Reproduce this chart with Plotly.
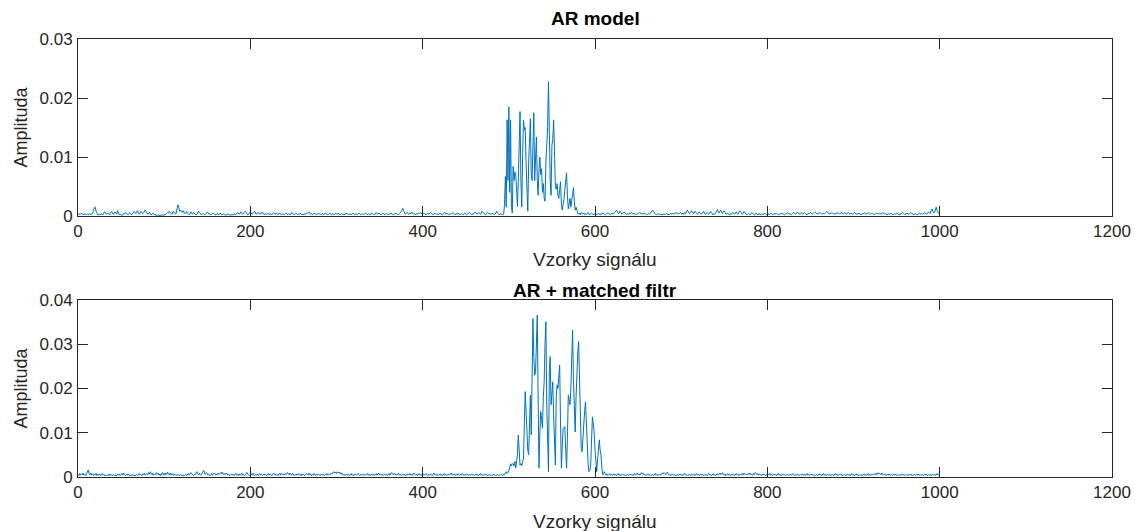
import plotly.graph_objects as go

# ---------------- data (amplitude in units of 1e-4) ----------------
# AR model: samples 0..479
ar_pre = [
3,4,2,3,5,3,2,2,4,3,2,3,2,4,3,2,3,5,9,14,
15,8,3,2,2,3,2,4,3,2,5,7,6,3,4,5,3,2,6,8,
5,3,4,7,5,3,9,6,2,3,2,1,2,4,3,6,5,3,2,4,
6,4,2,3,5,8,6,4,7,9,6,3,5,8,6,4,5,7,10,8,
5,3,4,6,3,2,4,5,3,2,2,1,1,2,1,1,2,1,1,2,
1,2,3,4,6,5,8,6,4,3,7,8,5,3,5,10,19,14,8,10,
8,6,9,7,4,6,8,5,3,2,4,7,5,3,6,4,3,2,3,5,
8,6,3,2,3,4,3,2,3,5,7,5,3,4,2,3,4,5,3,2,
2,3,4,2,3,5,3,2,3,4,2,2,3,2,4,3,1,2,2,3,
2,4,3,2,3,6,5,3,4,7,5,3,5,6,8,6,4,2,3,5,
7,5,3,4,6,8,5,3,4,6,4,5,3,6,7,4,2,3,4,3,
5,3,2,4,3,2,4,6,4,3,5,3,2,3,5,4,2,3,4,2,
3,5,4,2,3,4,2,3,6,4,3,2,3,5,3,2,4,3,5,4,
2,3,2,4,3,5,4,6,7,5,3,4,2,3,5,4,3,2,4,3,
5,3,2,3,4,2,3,5,4,3,2,4,5,3,2,4,3,2,3,5,
4,3,5,3,2,3,4,3,2,2,4,3,5,3,2,3,4,2,3,5,
3,2,3,4,2,3,5,4,2,3,4,2,3,3,5,3,2,4,3,2,
3,5,4,3,2,3,6,4,3,5,4,3,2,4,5,3,2,3,4,3,
2,4,3,5,4,3,2,3,4,5,4,3,2,4,5,7,10,13,9,5,
3,4,6,4,3,5,4,7,5,3,4,3,2,4,3,5,4,6,5,3,
3,5,4,3,2,4,5,3,4,6,5,3,2,3,5,4,3,4,2,3,
5,4,3,2,4,6,4,3,5,3,2,3,4,3,5,6,4,3,2,4,
3,5,4,2,3,4,3,2,4,5,3,2,3,4,6,5,3,2,4,3,
5,7,5,3,4,6,4,3,5,8,6,4,3,2,4,6,5,3,4,3,
]
# AR model: samples 480..599 (burst)
ar_burst = [
3,5,4,2,3,6,8,5,3,2,4,3,2,2,3,20,67,15,163,60,
185,40,163,20,5,84,60,75,72,40,16,60,120,177,60,15,100,163,146,150,
90,40,8,90,120,165,70,60,120,175,60,100,134,60,35,80,100,70,80,40,
55,30,25,90,118,150,228,130,60,35,120,130,163,110,50,45,55,35,30,45,
58,20,10,20,28,45,60,73,35,12,20,30,15,25,40,48,25,10,15,8,
5,3,5,2,6,4,3,5,2,4,3,4,6,3,2,4,5,3,2,4,
]
# AR model: samples 600..999
ar_post = [
3,4,2,3,5,3,2,4,3,5,4,3,2,3,4,6,4,3,2,4,
5,3,4,6,8,10,7,4,5,8,6,3,4,5,7,5,3,2,4,3,
5,4,6,4,3,5,3,2,3,4,3,4,6,5,3,4,3,5,4,3,
2,3,4,3,5,6,8,10,7,5,3,2,3,4,3,2,3,2,2,3,
3,2,3,4,3,2,2,3,5,3,4,3,5,4,6,4,5,3,4,6,
4,3,5,3,6,4,7,10,8,5,4,6,9,7,4,5,8,6,4,3,
5,7,5,3,4,6,8,5,3,4,6,4,3,5,8,6,3,2,4,3,
5,8,11,7,5,8,10,6,4,7,9,6,3,4,5,3,2,4,3,5,
6,4,3,5,7,4,3,6,9,7,4,3,5,8,6,3,2,3,4,3,
2,4,6,4,3,2,3,5,3,2,4,3,2,3,4,2,3,5,3,2,
3,4,2,3,5,3,2,3,4,3,5,4,3,2,3,4,3,5,4,3,
2,3,4,6,5,3,4,3,2,4,5,6,4,3,5,7,5,3,4,6,
5,3,4,6,4,3,2,3,5,4,6,5,3,4,5,7,6,4,3,5,
4,6,5,3,4,5,3,4,6,8,6,4,3,5,4,6,5,3,4,3,
5,4,6,5,3,4,7,5,3,4,6,4,3,5,6,4,3,5,4,3,
4,6,5,3,4,3,5,4,3,2,4,3,5,6,4,3,5,4,6,5,
3,4,5,3,2,3,4,5,4,3,5,4,3,4,6,5,3,4,3,2,
3,4,3,5,4,3,2,3,4,3,5,4,3,2,4,3,5,6,4,3,
4,3,5,4,3,4,6,5,4,3,2,3,4,3,2,3,4,5,3,4,
3,4,6,5,4,3,5,7,6,4,9,12,8,5,6,10,15,9,6,4,
]

# AR + matched filter: samples 0..499
mf_pre = [
6,3,8,4,7,5,9,4,6,3,8,12,16,7,5,9,4,6,3,7,
5,8,3,6,4,7,3,5,8,4,6,3,5,2,4,6,3,7,4,5,
3,6,4,2,5,3,6,4,7,3,5,8,4,9,6,3,5,7,4,6,
2,4,3,6,3,5,2,4,6,3,5,8,4,6,3,7,5,9,4,6,
8,5,10,7,12,6,9,4,7,5,8,10,6,9,4,7,3,6,10,5,
8,4,9,6,11,7,5,9,4,8,6,3,7,5,3,6,4,5,3,6,
4,3,5,2,4,6,3,5,8,4,6,10,7,4,3,6,5,9,12,7,
5,8,4,6,9,12,15,8,6,10,7,4,6,3,5,8,4,6,9,7,
4,7,5,9,6,8,11,7,10,6,8,5,9,7,4,6,3,5,7,4,
6,3,5,8,4,6,3,7,4,5,9,4,6,3,5,8,10,6,4,3,
5,7,4,9,5,3,6,4,7,3,5,8,4,6,3,5,7,4,6,3,
5,8,4,7,5,3,6,9,5,7,4,6,3,5,8,4,9,6,4,7,
5,8,6,10,7,5,9,6,4,8,5,3,6,4,7,5,8,4,6,3,
7,4,6,3,5,8,6,4,9,5,7,3,6,4,8,5,3,6,4,7,
5,3,6,4,7,5,3,6,4,8,5,7,4,6,9,7,10,12,9,11,
8,12,9,11,7,10,6,8,4,6,3,5,7,4,6,3,5,8,4,6,
3,5,7,4,6,8,5,3,6,4,7,5,3,6,4,5,8,4,6,3,
5,7,4,6,3,5,8,4,6,9,5,7,4,6,3,5,7,4,6,3,
5,8,4,6,10,7,5,9,6,4,7,5,8,4,6,3,5,7,4,6,
3,6,4,7,5,8,4,6,3,5,9,6,4,7,3,5,8,4,6,3,
5,7,4,6,8,5,3,6,4,7,5,3,6,9,5,7,4,6,3,5,
7,4,6,3,5,8,4,6,3,5,7,4,6,9,5,4,7,5,3,6,
4,7,5,3,6,4,8,5,3,6,4,7,5,3,6,4,5,7,4,6,
3,5,7,4,6,3,5,8,4,6,3,5,7,4,6,3,5,4,6,3,
5,3,6,4,5,3,4,6,3,5,4,6,5,3,7,5,9,12,8,10,
]
# AR + matched filter: samples 500..619 (burst)
mf_burst = [
15,20,30,25,30,30,25,35,20,42,50,95,70,27,30,25,35,40,120,193,
150,100,60,50,120,185,95,200,358,270,230,238,300,366,178,20,100,148,130,110,
180,215,300,351,163,60,12,240,272,163,200,215,140,80,27,180,208,200,220,253,
120,20,70,110,112,114,60,20,90,185,175,163,200,280,332,220,160,102,180,257,
280,306,200,80,65,57,95,133,150,170,120,57,30,12,15,27,90,136,120,102,
60,35,12,40,70,84,60,50,20,5,8,12,6,4,7,3,5,8,4,6,
]
# AR + matched filter: samples 620..999
mf_post = [
3,5,7,4,6,3,5,8,4,6,3,5,7,4,6,3,5,4,6,3,
5,7,4,6,3,5,8,4,6,9,5,7,4,8,10,7,9,5,6,3,
5,7,4,6,3,5,4,6,3,5,8,4,6,3,5,7,4,6,9,7,
10,8,5,9,11,7,4,6,3,5,7,4,6,3,5,4,6,3,5,7,
4,6,3,5,8,4,6,3,5,4,6,3,5,7,4,6,3,5,8,4,
6,3,5,7,4,6,3,5,4,6,3,5,8,4,6,3,5,7,4,6,
3,5,8,4,6,9,5,7,10,6,4,7,3,5,8,4,6,3,5,7,
4,6,3,5,8,4,6,3,5,7,4,8,5,9,6,4,7,5,8,6,
9,5,7,4,8,6,10,7,5,8,4,7,5,3,6,4,7,5,3,6,
4,7,5,8,4,6,3,5,7,4,6,3,5,8,4,6,3,5,7,4,
6,3,5,4,6,3,5,7,4,6,8,5,3,6,4,7,5,3,6,4,
5,7,4,6,3,5,8,4,6,3,5,7,4,6,3,5,4,6,3,5,
7,4,6,3,5,8,4,6,3,5,7,4,6,3,5,4,6,3,5,8,
4,6,3,5,7,4,6,3,5,4,6,3,5,7,4,6,3,5,8,4,
6,3,5,7,4,6,3,5,4,6,3,5,7,4,6,3,5,8,4,6,
3,5,7,4,6,8,5,9,6,10,7,8,5,9,6,4,7,5,3,6,
4,7,5,3,6,4,5,7,4,6,3,5,4,6,3,5,7,4,6,3,
5,4,6,3,5,7,4,6,3,5,4,6,3,5,7,4,6,3,5,4,
6,3,5,7,4,6,3,5,4,6,3,5,7,4,6,3,5,8,4,6,
]

x_tick_vals = [0, 200, 400, 600, 800, 1000, 1200]
x_tick_labels = ["0", "200", "400", "600", "800", "1000", "1200"]
y1_tick_vals = [0, 0.01, 0.02, 0.03]
y1_tick_labels = ["0", "0.01", "0.02", "0.03"]
y2_tick_vals = [0, 0.01, 0.02, 0.03, 0.04]
y2_tick_labels = ["0", "0.01", "0.02", "0.03", "0.04"]

titles = ["AR model", "AR + matched filtr"]
x_label = "Vzorky signálu"
y_label = "Amplituda"

# ---------------- build ----------------
scale = 1e-4
ar = [v * scale for v in ar_pre + ar_burst + ar_post]
mf = [v * scale for v in mf_pre + mf_burst + mf_post]

# body margin is removed in the page (post_script), so window px == figure px
W, H = 1135, 531
AX_L, AX_R = 78, 1112          # px of axes left/right
TOP_T, TOP_B = 39, 216         # px of top axes
BOT_T, BOT_B = 300, 477        # px of bottom axes
L = AX_L
R = W - AX_R
T = TOP_T
B = H - BOT_B
ph = H - T - B
pw = W - L - R

def py(p):  # pixel y -> paper y
    return (BOT_B - p) / ph
def px(p):
    return (p - L) / pw

line_col = "#0072BD"
ax_col = "#262626"
font_fam = "Liberation Sans, Arial, Helvetica, sans-serif"
FS = 17
FL = 19

fig = go.Figure()
fig.add_trace(go.Scatter(x=list(range(len(ar))), y=ar, mode="lines",
                         line=dict(color=line_col, width=1), xaxis="x", yaxis="y",
                         showlegend=False, hoverinfo="skip"))
fig.add_trace(go.Scatter(x=list(range(len(mf))), y=mf, mode="lines",
                         line=dict(color=line_col, width=1), xaxis="x2", yaxis="y2",
                         showlegend=False, hoverinfo="skip"))

common_x = dict(range=[0, 1200], tickvals=x_tick_vals, ticktext=x_tick_labels,
                ticks="inside", ticklen=10, tickwidth=1, tickcolor=ax_col,
                showline=True, linecolor=ax_col, linewidth=1, mirror="ticks",
                showgrid=False, zeroline=False,
                tickfont=dict(size=FS, color=ax_col, family=font_fam))
common_y = dict(ticks="inside", ticklen=10, tickwidth=1, tickcolor=ax_col,
                showline=True, linecolor=ax_col, linewidth=1, mirror="ticks",
                showgrid=False, zeroline=False, ticklabelstandoff=1,
                tickfont=dict(size=FS, color=ax_col, family=font_fam))

top_dom = [py(TOP_B), py(TOP_T)]
bot_dom = [py(BOT_B), py(BOT_T)]

fig.update_layout(
    width=W, height=H,
    margin=dict(l=L, r=R, t=T, b=B, autoexpand=False),
    paper_bgcolor="white", plot_bgcolor="white",
    font=dict(family=font_fam, color=ax_col),
    hovermode=False,
    xaxis=dict(domain=[0, 1], anchor="y", **common_x),
    yaxis=dict(domain=top_dom, anchor="x", range=[0, 0.03],
               tickvals=y1_tick_vals, ticktext=y1_tick_labels, **common_y),
    xaxis2=dict(domain=[0, 1], anchor="y2", **common_x),
    yaxis2=dict(domain=bot_dom, anchor="x2", range=[0, 0.04],
                tickvals=y2_tick_vals, ticktext=y2_tick_labels, **common_y),
)

ann = []
for txt, yy in ((titles[0], 19), (titles[1], 290)):
    ann.append(dict(text="<b>%s</b>" % txt, x=0.5, y=py(yy), xref="paper", yref="paper",
                    showarrow=False, font=dict(size=FL, color="black", family=font_fam),
                    xanchor="center", yanchor="middle"))
for yy in (259, 521):
    ann.append(dict(text=x_label, x=0.5, y=py(yy), xref="paper", yref="paper",
                    showarrow=False, font=dict(size=FL, color=ax_col, family=font_fam),
                    xanchor="center", yanchor="middle"))
for yy in ((TOP_T + TOP_B) / 2, (BOT_T + BOT_B) / 2):
    ann.append(dict(text=y_label, x=px(20), y=py(yy), xref="paper", yref="paper",
                    showarrow=False, textangle=-90,
                    font=dict(size=FL - 1, color=ax_col, family=font_fam),
                    xanchor="center", yanchor="middle"))
fig.update_layout(annotations=ann)

fig.write_html(
    "out.html",
    config={"displayModeBar": False, "staticPlot": True},
    post_script="document.body.style.margin='0';document.body.style.overflow='hidden';"
                "document.documentElement.style.overflow='hidden';",
)
